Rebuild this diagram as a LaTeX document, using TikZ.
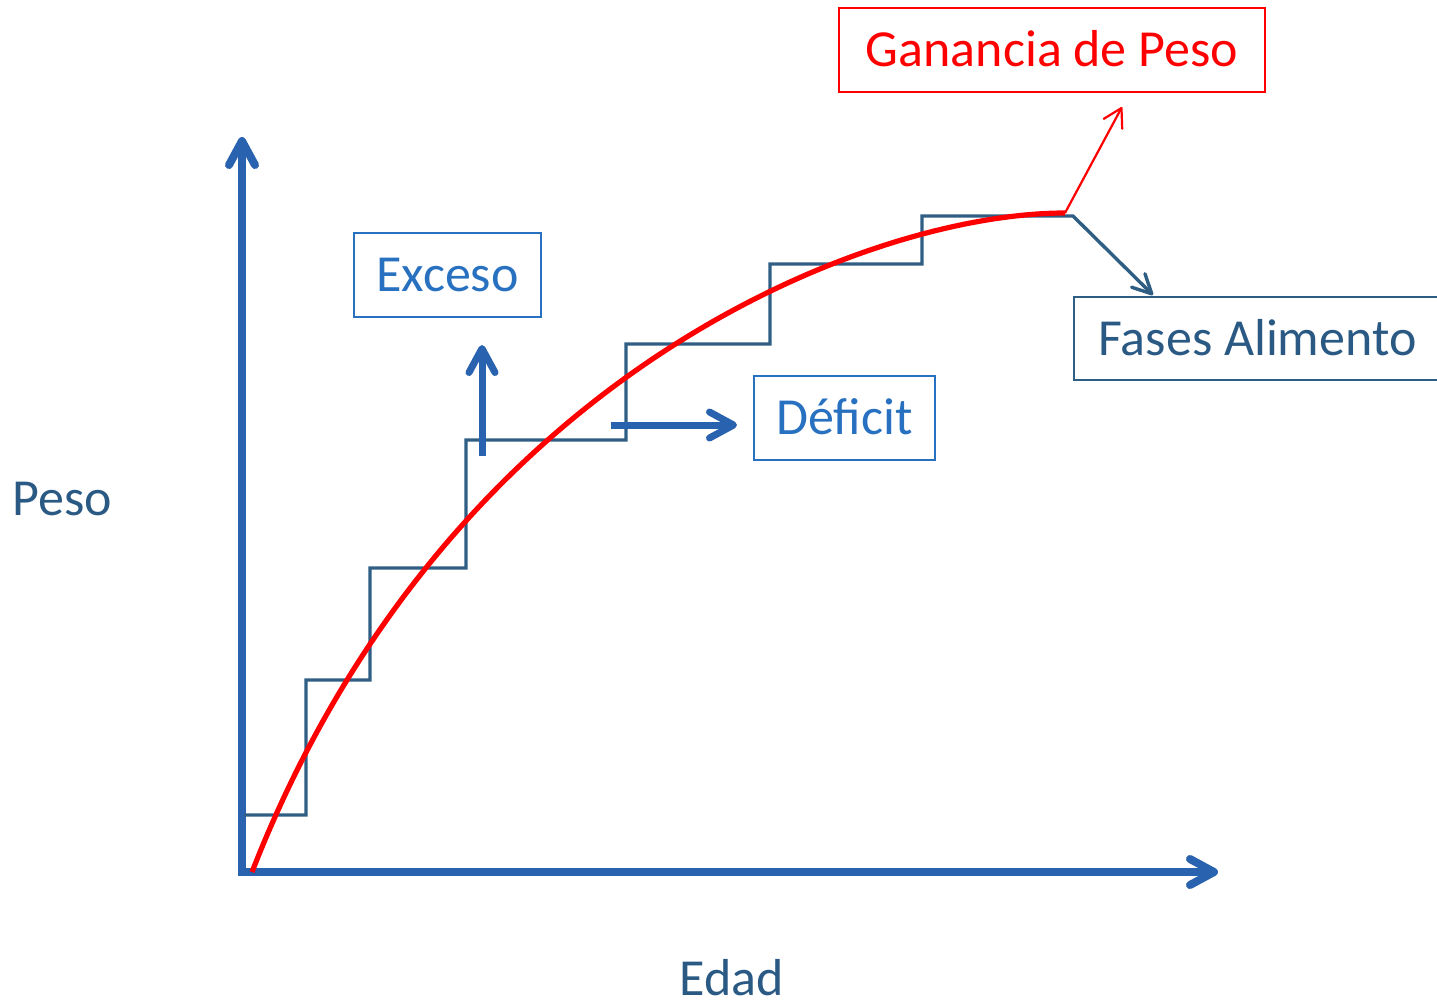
\documentclass[tikz,border=0pt]{standalone}
\usepackage{fontspec}
\setmainfont{Carlito}
\usetikzlibrary{arrows.meta}
\definecolor{axisblue}{RGB}{41,98,174}
\definecolor{stepblue}{RGB}{47,94,133}
\definecolor{textdark}{RGB}{42,90,132}
\definecolor{boxblue}{RGB}{40,112,192}
\definecolor{pured}{RGB}{255,0,0}
\begin{document}
\begin{tikzpicture}[x=0.5pt,y=-0.5pt,
  thickarrow/.style={line width=4pt, draw=axisblue, line cap=butt,
    -{Straight Barb[length=12pt,width=13pt,round]}},
  smallarrow/.style={line width=3.5pt, draw=axisblue, line cap=butt,
    -{Straight Barb[length=12pt,width=13pt,round]}},
  stepline/.style={line width=1.7pt, draw=stepblue, line join=miter,
    -{Straight Barb[length=9.5pt,width=9.5pt,round]}},
  redcurve/.style={line width=2.6pt, draw=pured},
  redarrow/.style={line width=1.1pt, draw=pured,
    -{Straight Barb[length=9pt,width=10.5pt,round]}},
  lbl/.style={font=\fontsize{26}{31}\selectfont, inner sep=0pt,
    text height=16.7pt, text depth=0pt},
  labelbox/.style={lbl, draw, line width=1.1pt, minimum height=42pt},
]
\useasboundingbox (0,0) rectangle (1437,1003);

% axes
\coordinate (O) at (242,872);
\coordinate (ytop) at (242,137);
\coordinate (xend) at (1218,872);
\draw[thickarrow] (242,876) -- (ytop);
\draw[thickarrow] (238,872) -- (xend);

% labels and boxes
\node[lbl, text=textdark] (peso) at (62.5,499) {Peso};
\node[lbl, text=textdark] (edad) at (732,978.5) {Edad};
\node[labelbox, draw=pured, text=pured, minimum width=213pt] (gan) at (1052,50) {Ganancia de Peso};
\node[labelbox, draw=boxblue, text=boxblue, minimum width=93.5pt] (exc) at (447.5,275) {Exceso};
\node[labelbox, draw=boxblue, text=boxblue, minimum width=90.5pt] (def) at (844.5,418) {Déficit};
\node[labelbox, draw=stepblue, text=textdark, minimum width=183.5pt, minimum height=41.5pt] (fas) at (1257.5,338.5) {Fases Alimento};

% step function (feeding phases)
\coordinate (stepend) at (1073,216);
\coordinate (fastip) at (1153,295);
\draw[stepline] (244,815) -- (306,815) -- (306,680) -- (370,680) -- (370,568)
  -- (466,568) -- (466,440) -- (626,440) -- (626,344) -- (770,344)
  -- (770,264) -- (922,264) -- (922,216) -- (stepend) -- (fastip);

% weight gain curve
\coordinate (redstart) at (252,872);
\coordinate (redend) at (1065,213);
\coordinate (gtip) at (1122,107);
\draw[redcurve] (redstart) .. controls (447,372) and (870,213) .. (redend);
\draw[redarrow] (redend) -- (gtip);

% excess / deficit arrows
\coordinate (upbase) at (482,456);
\coordinate (uptip) at (482,345);
\coordinate (rbase) at (611,425);
\coordinate (rtip) at (737,425);
\draw[smallarrow] (upbase) -- (uptip);
\draw[smallarrow] (rbase) -- (rtip);
\end{tikzpicture}
\end{document}
